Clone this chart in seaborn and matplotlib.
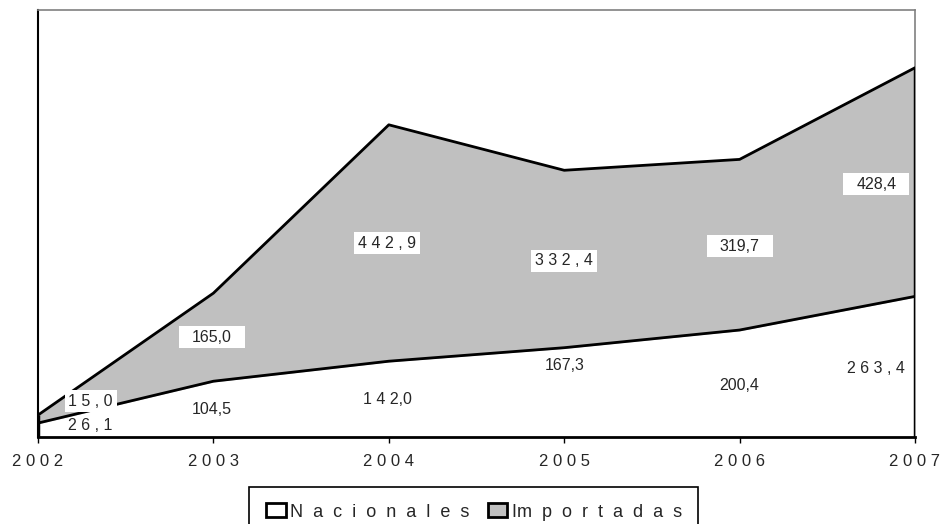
import matplotlib
matplotlib.use("Agg")
import matplotlib.pyplot as plt
import matplotlib.transforms as mtransforms
import seaborn as sns
import pandas as pd
import numpy as np
from matplotlib.patches import Patch, Rectangle

# ---- data ----
years = [2002, 2003, 2004, 2005, 2006, 2007]
year_labels = ["2 0 0 2", "2 0 0 3", "2 0 0 4", "2 0 0 5", "2 0 0 6", "2 0 0 7"]
nacionales = [26.1, 104.5, 142.0, 167.3, 200.4, 263.4]
importadas = [15.0, 165.0, 442.9, 332.4, 319.7, 428.4]
nac_text = ["2 6 , 1", "104,5", "1 4 2,0", "167,3", "200,4", "2 6 3 , 4"]
imp_text = ["1 5 , 0", "165,0", "4 4 2 , 9", "3 3 2 , 4", "319,7", "428,4"]
series_names = ["N  a  c  i  o  n  a  l  e  s", "Im  p  o  r  t  a  d  a  s"]

# label placement styling (fraction within band, x offset in years, box width px)
nac_frac = [0.84, 0.50, 0.49, 0.80, 0.48, 0.49]
imp_frac = [2.7, 0.50, 0.50, 0.49, 0.49, 0.49]
lab_dx = [0.30, -0.01, -0.01, 0.0, 0.0, -0.22]
box_w = [52, 66, 66, 66, 66, 66]

sns.set_style("white")
plt.rcParams["font.family"] = ["Liberation Sans", "DejaVu Sans"]

fig = plt.figure(figsize=(9.4, 5.24), dpi=100)
ax = fig.add_axes([38 / 940, 1 - 437 / 524, 877 / 940, 427 / 524])

df = pd.DataFrame({"year": years, "nac": nacionales,
                   "tot": np.array(nacionales) + np.array(importadas)})

ax.fill_between(df["year"], 0, df["nac"], color="white", zorder=1)
ax.fill_between(df["year"], df["nac"], df["tot"], color="#C0C0C0", zorder=1)
sns.lineplot(data=df, x="year", y="nac", ax=ax, color="black", lw=2, zorder=3)
sns.lineplot(data=df, x="year", y="tot", ax=ax, color="black", lw=2, zorder=3)
ax.vlines([years[0], years[-1]], 0, df["tot"].iloc[[0, -1]], color="black", lw=2.5, zorder=4)

ax.set_xlim(years[0], years[-1])
ax.set_ylim(0, 800)
ax.set_xlabel("")
ax.set_ylabel("")
ax.set_yticks([])
ax.set_xticks(years)
ax.set_xticklabels(year_labels, fontsize=12)
ax.tick_params(axis="x", direction="out", length=4, width=1, color="black", pad=8, bottom=True)

for s in ["top", "right"]:
    ax.spines[s].set_color("#808080")
    ax.spines[s].set_linewidth(1.2)
ax.spines["left"].set_color("black")
ax.spines["left"].set_linewidth(1.5)
ax.spines["bottom"].set_color("black")
ax.spines["bottom"].set_linewidth(2)

ident = mtransforms.IdentityTransform()
for i, y in enumerate(years):
    n = nacionales[i]
    m = importadas[i]
    ax.text(y + lab_dx[i], n * nac_frac[i], nac_text[i], ha="center", va="center",
            fontsize=11.5, zorder=5)
    px, py = y + lab_dx[i], n + m * imp_frac[i]
    ax.text(px, py, imp_text[i], ha="center", va="center", fontsize=11.5, zorder=6)
    cx, cy = ax.transData.transform((px, py))
    ax.add_patch(Rectangle((cx - box_w[i] / 2, cy - 11), box_w[i], 22, transform=ident,
                           facecolor="white", edgecolor="none", zorder=5, clip_on=False))

handles = [Patch(facecolor="white", edgecolor="black", lw=2),
           Patch(facecolor="#C0C0C0", edgecolor="black", lw=2)]
leg = ax.legend(handles, series_names, loc="upper center", bbox_to_anchor=(0.497, -0.117),
                ncol=2, frameon=True, fancybox=False, edgecolor="black", framealpha=1,
                fontsize=13, borderaxespad=0, handlelength=1.1, handleheight=0.83,
                handletextpad=0.25, columnspacing=1.0, borderpad=0.9)
leg.get_frame().set_linewidth(1.2)

fig.savefig("out.png", dpi=100)
